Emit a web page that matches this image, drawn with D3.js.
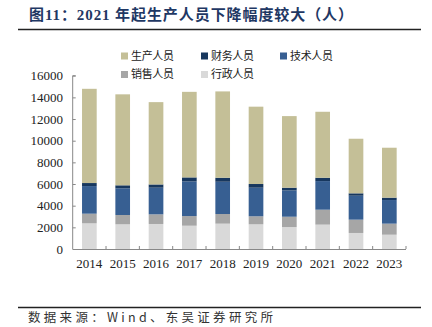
<!DOCTYPE html>
<html><head><meta charset="utf-8">
<script src="https://cdn.jsdelivr.net/npm/d3@7"></script>
<style>body{margin:0;background:#fff}svg{display:block}</style>
</head><body>
<script>
const years = ["2014","2015","2016","2017","2018","2019","2020","2021","2022","2023"];
const admin      = [2370,2280,2310,2150,2340,2280,2030,2250,1480,1320];
const sales      = [ 890, 860, 890, 890, 890, 740, 950,1380,1230,1020];
const tech       = [2550,2460,2460,3200,2980,2640,2430,2640,2210,2180];
const finance    = [ 280, 280, 300, 370, 370, 340, 250, 310, 220, 220];
const production = [8700,8400,7600,7900,7970,7140,6610,6090,5040,4610];
const yTicks = [0,2000,4000,6000,8000,10000,12000,14000,16000];
const seriesNames = ["行政人员","销售人员","技术人员","财务人员","生产人员"];
const seriesVals = [admin, sales, tech, finance, production];
const colors = ["#D9D9D9","#A6A6A6","#375F92","#17375E","#C4BF97"];

const W=432,H=327;
const svg=d3.select("body").append("svg").attr("width",W).attr("height",H);
const serif="'Liberation Serif','Times New Roman',serif";
const cjk="'Noto Sans CJK SC',sans-serif";

// title
svg.append("text").attr("x",29).attr("y",20)
  .attr("font-family","'Liberation Serif','Noto Sans CJK SC',serif").attr("font-weight","bold")
  .attr("font-size",15).attr("fill","#1F3864")
  .attr("textLength",324).attr("lengthAdjust","spacing")
  .text("图11：2021 年起生产人员下降幅度较大（人）");
svg.append("line").attr("x1",18).attr("x2",421).attr("y1",29.5).attr("y2",29.5).attr("stroke","#222").attr("stroke-width",1.6);
svg.append("line").attr("x1",18).attr("x2",421).attr("y1",307.5).attr("y2",307.5).attr("stroke","#222").attr("stroke-width",1.6);
svg.append("text").attr("x",28).attr("y",322).attr("font-family",cjk).attr("font-size",12.5).attr("fill","#333")
  .attr("textLength",245).attr("lengthAdjust","spacing")
  .text("数据来源：Wind、东吴证券研究所");

const x0=72.7,x1=406,y0=249,y1=75.7;
const x=d3.scaleBand().domain(years).range([x0,x1]).paddingInner(0.56).paddingOuter(0.28);
const y=d3.scaleLinear().domain([0,16000]).range([y0,y1]);

const table=years.map((yr,i)=>{const o={year:yr};seriesNames.forEach((n,k)=>o[n]=seriesVals[k][i]);return o;});
const stack=d3.stack().keys(seriesNames)(table);

svg.append("g").selectAll("g").data(stack).join("g").attr("fill",(d,i)=>colors[i])
  .selectAll("rect").data(d=>d).join("rect")
  .attr("x",d=>x(d.data.year)).attr("width",x.bandwidth())
  .attr("y",d=>y(d[1])).attr("height",d=>y(d[0])-y(d[1]));

// y axis
const ya=svg.append("g").attr("transform",`translate(${x0},0)`)
  .call(d3.axisRight(y).tickValues(yTicks).tickSize(3).tickFormat(""));
ya.select(".domain").attr("stroke","#888").attr("d",`M3,${y1}H0V${y0}`);
ya.selectAll(".tick line").attr("stroke","#888");
svg.append("g").selectAll("text").data(yTicks).join("text")
  .attr("x",63).attr("y",d=>y(d)).attr("dy","0.35em").attr("text-anchor","end")
  .attr("font-family",serif).attr("font-size",13).attr("fill","#222").text(d=>d);

// x axis
const step=x.step();
const bounds=d3.range(0,years.length+1).map(k=>x0+k*step);
svg.append("line").attr("x1",x0).attr("x2",x1).attr("y1",y0+0.5).attr("y2",y0+0.5).attr("stroke","#888");
svg.append("g").selectAll("line").data(bounds.slice(1)).join("line")
  .attr("x1",d=>d).attr("x2",d=>d).attr("y1",y0).attr("y2",y0-3).attr("stroke","#888");
svg.append("g").selectAll("text").data(years).join("text")
  .attr("x",d=>x(d)+x.bandwidth()/2).attr("y",268).attr("text-anchor","middle")
  .attr("font-family",serif).attr("font-size",13).attr("fill","#222").text(d=>d);

// legend
const legend=[
  {name:"生产人员",c:colors[4],x:121,y:56},
  {name:"财务人员",c:colors[3],x:201,y:56},
  {name:"技术人员",c:colors[2],x:280,y:56},
  {name:"销售人员",c:colors[1],x:121,y:74.5},
  {name:"行政人员",c:colors[0],x:201,y:74.5}];
const lg=svg.append("g").selectAll("g").data(legend).join("g");
lg.append("rect").attr("x",d=>d.x).attr("y",d=>d.y-3.5).attr("width",7).attr("height",7).attr("fill",d=>d.c);
lg.append("text").attr("x",d=>d.x+10).attr("y",d=>d.y).attr("dy","0.36em")
  .attr("font-family",cjk).attr("font-size",11).attr("fill","#222")
  .attr("textLength",43).attr("lengthAdjust","spacing").text(d=>d.name);
</script>
</body></html>
